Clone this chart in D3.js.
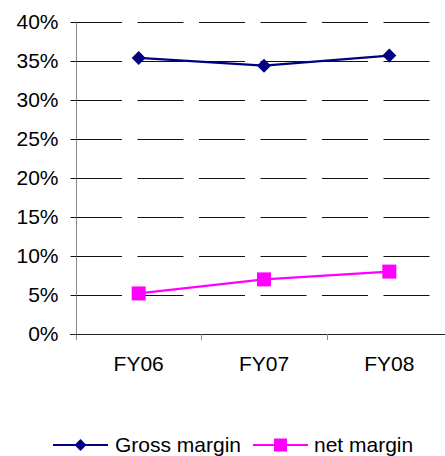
<!DOCTYPE html>
<html>
<head>
<meta charset="utf-8">
<script src="https://cdn.jsdelivr.net/npm/d3@7/dist/d3.min.js"></script>
<style>
  html, body { margin: 0; padding: 0; background: #fff; }
  svg { display: block; font-family: Arial, "Liberation Sans", sans-serif; }
</style>
</head>
<body>
<svg id="chart" width="445" height="456"></svg>
<script>
// Fiscal years and margin series (fractions)
const categories = ["FY06", "FY07", "FY08"];
const grossMargin = [0.354, 0.344, 0.357];
const netMargin = [0.052, 0.070, 0.080];
const yTicks = [0, 0.05, 0.10, 0.15, 0.20, 0.25, 0.30, 0.35, 0.40];
const seriesNames = ["Gross margin", "net margin"];

(function () {
const svg = d3.select("#chart");
const plotLeft = 76, plotRight = 452, plotTop = 22, plotBottom = 334;
const fontSize = 21;

const x = d3.scaleBand().domain(categories).range([plotLeft, plotRight]);
const y = d3.scaleLinear().domain([0, 0.40]).range([plotBottom, plotTop]);

// dashed horizontal gridlines
svg.append("g")
  .selectAll("line")
  .data(yTicks.filter(t => t > 0))
  .join("line")
  .attr("x1", plotLeft).attr("x2", plotRight)
  .attr("y1", d => Math.round(y(d)) + 0.5)
  .attr("y2", d => Math.round(y(d)) + 0.5)
  .attr("stroke", "#111")
  .attr("stroke-width", 1)
  .attr("stroke-dasharray", "46,15.5");

// y axis
const yAxis = svg.append("g")
  .attr("transform", `translate(${plotLeft + 0.5},0)`)
  .call(d3.axisLeft(y).tickValues(yTicks).tickFormat(d3.format(".0%")).tickSize(6).tickPadding(12));
yAxis.select(".domain").attr("stroke", "#888").attr("d", `M0,${plotTop}V${plotBottom + 6}`);
yAxis.selectAll(".tick line").attr("stroke", "#111");
yAxis.selectAll(".tick text")
  .attr("fill", "#000").attr("font-size", fontSize).attr("font-family", "Arial, 'Liberation Sans', sans-serif");

// x axis
const xAxis = svg.append("g")
  .attr("transform", `translate(0,${plotBottom + 0.5})`)
  .call(d3.axisBottom(x).tickSize(0).tickPadding(22));
xAxis.select(".domain").attr("stroke", "#222").attr("d", `M${plotLeft - 6},0H${plotRight}`);
xAxis.selectAll(".tick text")
  .attr("fill", "#000").attr("font-size", fontSize).attr("font-family", "Arial, 'Liberation Sans', sans-serif")
  .attr("dy", "0.71em");
// category boundary ticks
svg.append("g")
  .selectAll("line")
  .data(categories.slice(1))
  .join("line")
  .attr("x1", d => Math.round(x(d)) + 0.5).attr("x2", d => Math.round(x(d)) + 0.5)
  .attr("y1", plotBottom).attr("y2", plotBottom + 6)
  .attr("stroke", "#888");

const cx = d => x(d) + x.bandwidth() / 2;
const line = d3.line().x((d, i) => cx(categories[i])).y(d => y(d));

function drawDiamond(sel, px, py, r) {
  sel.append("path")
    .attr("d", `M${px},${py - r}L${px + r},${py}L${px},${py + r}L${px - r},${py}Z`)
    .attr("fill", "#000080");
}

// gross margin series
svg.append("path").datum(grossMargin)
  .attr("d", line).attr("fill", "none").attr("stroke", "#000080").attr("stroke-width", 2.2);
const gm = svg.append("g");
grossMargin.forEach((v, i) => drawDiamond(gm, cx(categories[i]), y(v), 7));

// net margin series
svg.append("path").datum(netMargin)
  .attr("d", line).attr("fill", "none").attr("stroke", "#FF00FF").attr("stroke-width", 2.2);
svg.append("g").selectAll("rect")
  .data(netMargin)
  .join("rect")
  .attr("x", (d, i) => cx(categories[i]) - 7)
  .attr("y", d => y(d) - 7)
  .attr("width", 14).attr("height", 14)
  .attr("fill", "#FF00FF");

// legend
const ly = 445;
const lg = svg.append("g");
lg.append("line").attr("x1", 53).attr("x2", 108).attr("y1", ly).attr("y2", ly)
  .attr("stroke", "#000080").attr("stroke-width", 2);
drawDiamond(lg, 80.5, ly, 6);
lg.append("text").attr("x", 115).attr("y", ly).attr("dy", "0.35em")
  .attr("font-size", fontSize).text(seriesNames[0]);
lg.append("line").attr("x1", 253).attr("x2", 308).attr("y1", ly).attr("y2", ly)
  .attr("stroke", "#FF00FF").attr("stroke-width", 2);
lg.append("rect").attr("x", 274).attr("y", ly - 6.5).attr("width", 13).attr("height", 13)
  .attr("fill", "#FF00FF");
lg.append("text").attr("x", 314).attr("y", ly).attr("dy", "0.35em")
  .attr("font-size", fontSize).text(seriesNames[1]);
})();
</script>
</body>
</html>
